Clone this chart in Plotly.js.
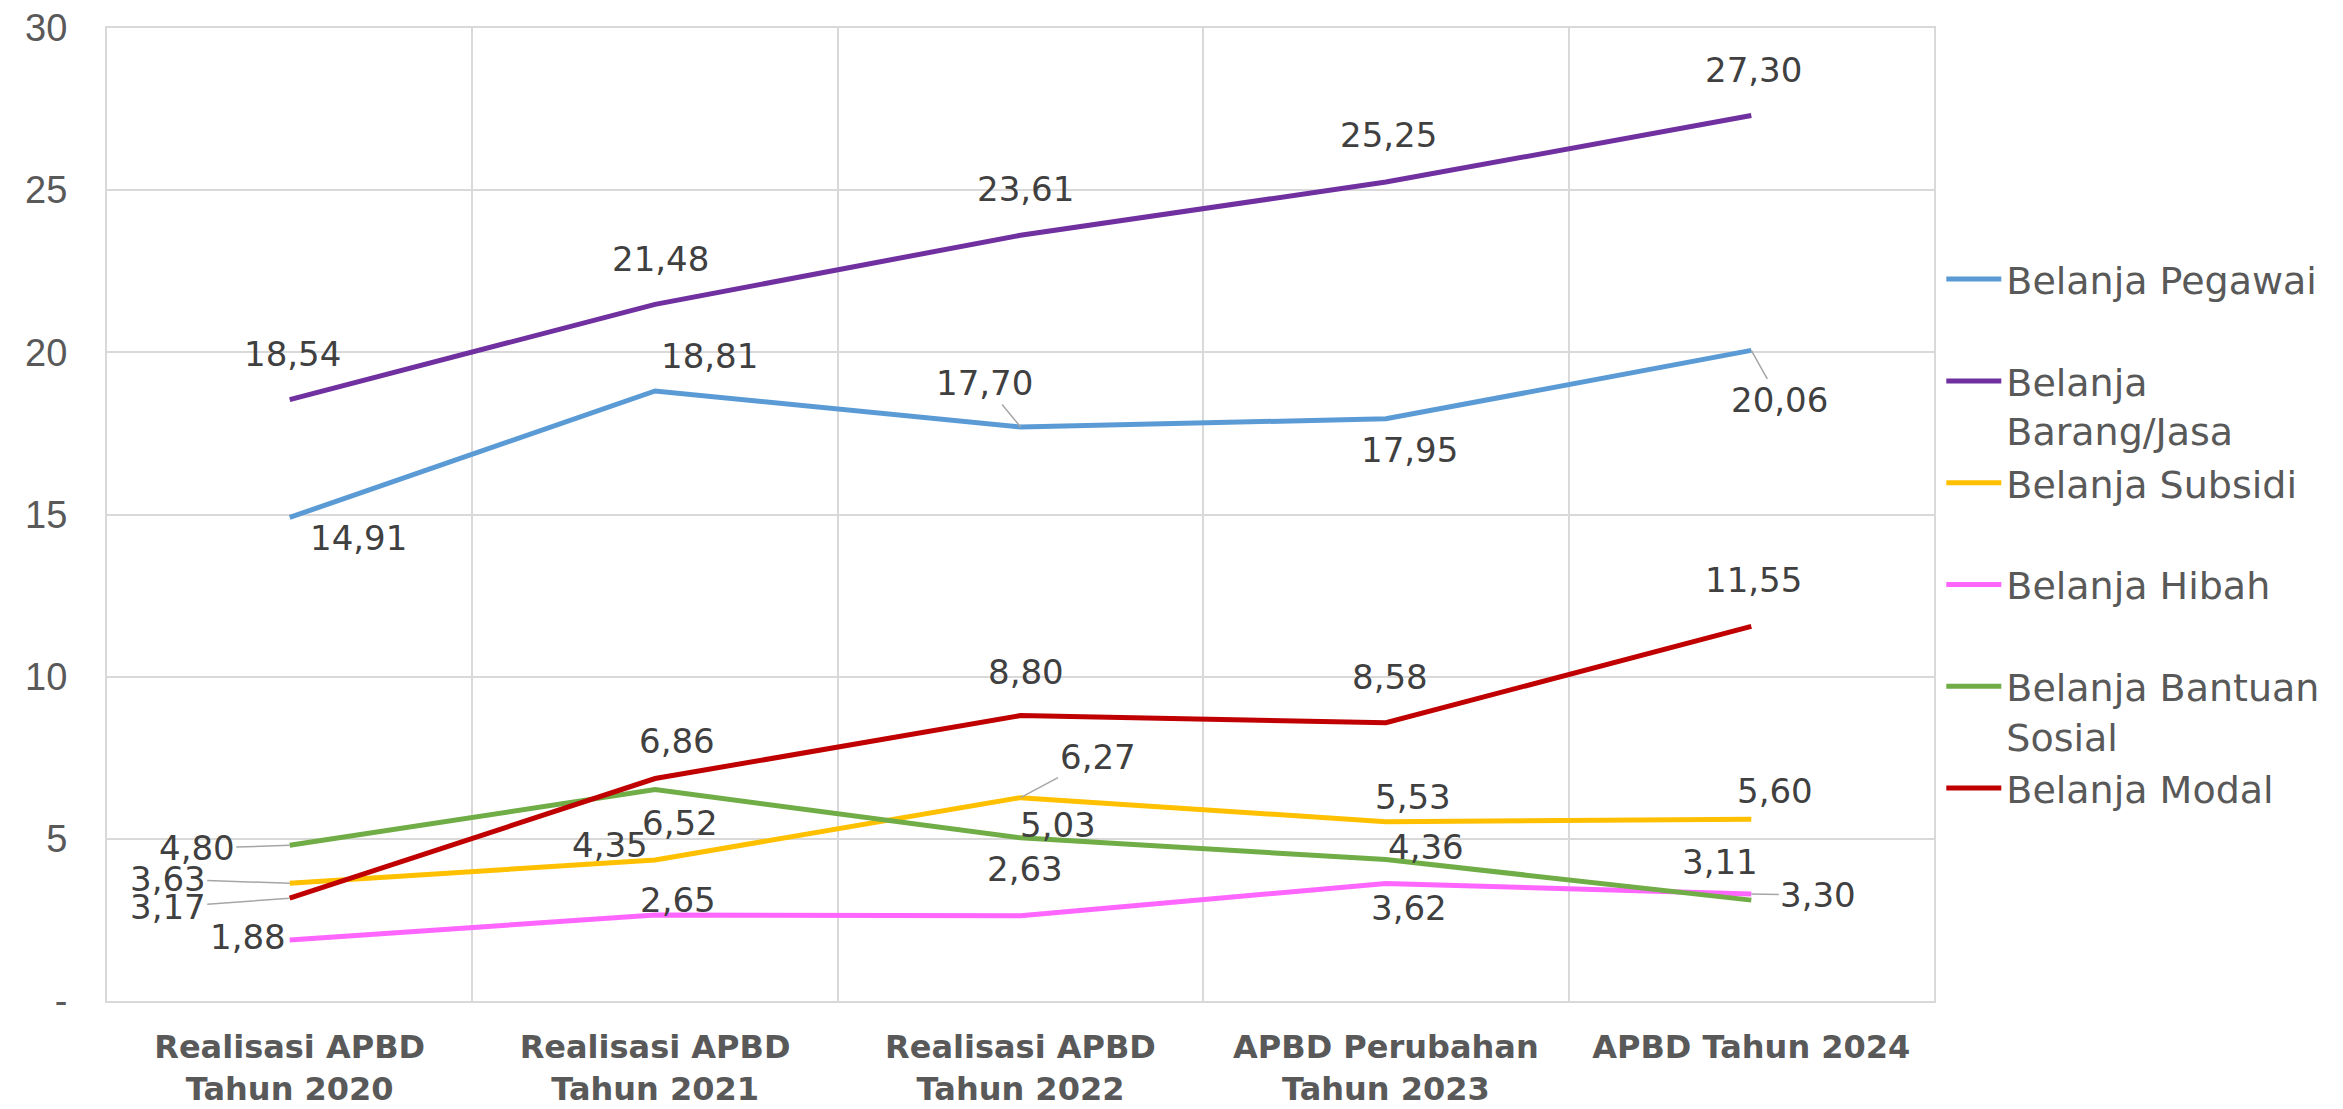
<!DOCTYPE html>
<html>
<head>
<meta charset="utf-8">
<script src="https://cdn.plot.ly/plotly-3.0.1.min.js"></script>
<style>
html, body { margin: 0; padding: 0; background: #ffffff; }
#chart { width: 2343px; height: 1109px; }
</style>
</head>
<body>
<div id="chart"></div>
<script>
// ---- data ----
const categories = [
  "Realisasi APBD<br>Tahun 2020",
  "Realisasi APBD<br>Tahun 2021",
  "Realisasi APBD<br>Tahun 2022",
  "APBD Perubahan<br>Tahun 2023",
  "APBD Tahun 2024"
];
const seriesNames = [
  "Belanja Pegawai",
  "Belanja<br>Barang/Jasa",
  "Belanja Subsidi",
  "Belanja Hibah",
  "Belanja Bantuan<br>Sosial",
  "Belanja Modal"
];
const belanjaPegawai = [14.91, 18.81, 17.70, 17.95, 20.06];
const belanjaBarangJasa = [18.54, 21.48, 23.61, 25.25, 27.30];
const belanjaSubsidi = [3.63, 4.35, 6.27, 5.53, 5.60];
const belanjaHibah = [1.88, 2.65, 2.63, 3.62, 3.30];
const belanjaBantuanSosial = [4.80, 6.52, 5.03, 4.36, 3.11];
const belanjaModal = [3.17, 6.86, 8.80, 8.58, 11.55];
const yTickVals = [0, 5, 10, 15, 20, 25, 30];
const yTickText = ["-", "5", "10", "15", "20", "25", "30"];

// ---- styles (not data) ----
const seriesColors = ["#5B9BD5", "#7030A0", "#FFC000", "#FF66FF", "#70AD47", "#C00000"];
// label offsets in pixels [dx, dy] relative to the point, and whether a leader line is shown
const labelOffsets = [
  [[69, 21], [54, -35], [-36, -44], [24, 31], [28, 50]],
  [[3, -46], [5, -45], [5, -46], [3, -47], [2, -46]],
  [[-122, -4], [-45, -15], [77, -41], [27, -25], [24, -28]],
  [[-42, -3], [23, -15], [4, -47], [23, 24], [67, 1]],
  [[-93, 3], [25, 33], [37, -13], [40, -13], [-31, -38]],
  [[-122, 9], [22, -38], [5, -44], [4, -46], [2, -46]]
];
const leaders = [
  [false, false, true, false, true],
  [false, false, false, false, false],
  [true, false, true, false, false],
  [false, false, false, false, true],
  [true, false, false, false, false],
  [true, false, false, false, false]
];

const allSeries = [belanjaPegawai, belanjaBarangJasa, belanjaSubsidi, belanjaHibah, belanjaBantuanSosial, belanjaModal];

const traces = allSeries.map((vals, i) => {
  // make every legend entry two lines tall so the spacing is even
  let name = seriesNames[i];
  if (name.indexOf("<br>") < 0) name = name + "<br>\u00a0";
  return {
    type: "scatter",
    mode: "lines",
    x: categories,
    y: vals,
    name: name,
    line: { color: seriesColors[i], width: 5 },
    hoverinfo: "skip"
  };
});

const annotations = [];
allSeries.forEach((vals, i) => {
  vals.forEach((v, j) => {
    const lead = leaders[i][j];
    annotations.push({
      x: categories[j],
      y: v,
      xref: "x",
      yref: "y",
      text: v.toFixed(2).replace(".", ","),
      showarrow: true,
      arrowhead: 0,
      arrowwidth: lead ? 1.5 : 0.1,
      arrowcolor: lead ? "#A6A6A6" : "rgba(0,0,0,0)",
      ax: labelOffsets[i][j][0],
      ay: labelOffsets[i][j][1],
      standoff: 0,
      font: { family: "DejaVu Sans", size: 34, color: "#404040" }
    });
  });
});

const layout = {
  width: 2343,
  height: 1109,
  margin: { l: 107, r: 409, t: 28, b: 108, pad: 0 },
  paper_bgcolor: "#ffffff",
  plot_bgcolor: "#ffffff",
  showlegend: true,
  legend: {
    x: 1.004,
    xanchor: "left",
    y: 0.774,
    yanchor: "top",
    valign: "top",
    itemwidth: 55,
    font: { family: "DejaVu Sans", size: 38, color: "#595959" },
    bgcolor: "rgba(0,0,0,0)",
    borderwidth: 0,
    traceorder: "normal"
  },
  xaxis: {
    type: "category",
    range: [-0.5, 4.5],
    tickson: "boundaries",
    showgrid: true,
    gridcolor: "#D9D9D9",
    gridwidth: 2,
    showline: true,
    mirror: true,
    linecolor: "#D9D9D9",
    linewidth: 2,
    ticks: "",
    ticklabelstandoff: 17,
    tickfont: { family: "DejaVu Sans", size: 32, color: "#595959", weight: "bold" },
    fixedrange: true
  },
  yaxis: {
    range: [0, 30],
    tickvals: yTickVals,
    ticktext: yTickText,
    showgrid: true,
    gridcolor: "#D9D9D9",
    gridwidth: 2,
    zeroline: false,
    showline: true,
    mirror: true,
    linecolor: "#D9D9D9",
    linewidth: 2,
    ticks: "",
    ticklabelstandoff: 30,
    tickfont: { family: "Liberation Sans", size: 38, color: "#595959" },
    fixedrange: true
  },
  annotations: annotations
};

Plotly.newPlot("chart", traces, layout, { displayModeBar: false, staticPlot: true });
</script>
</body>
</html>
